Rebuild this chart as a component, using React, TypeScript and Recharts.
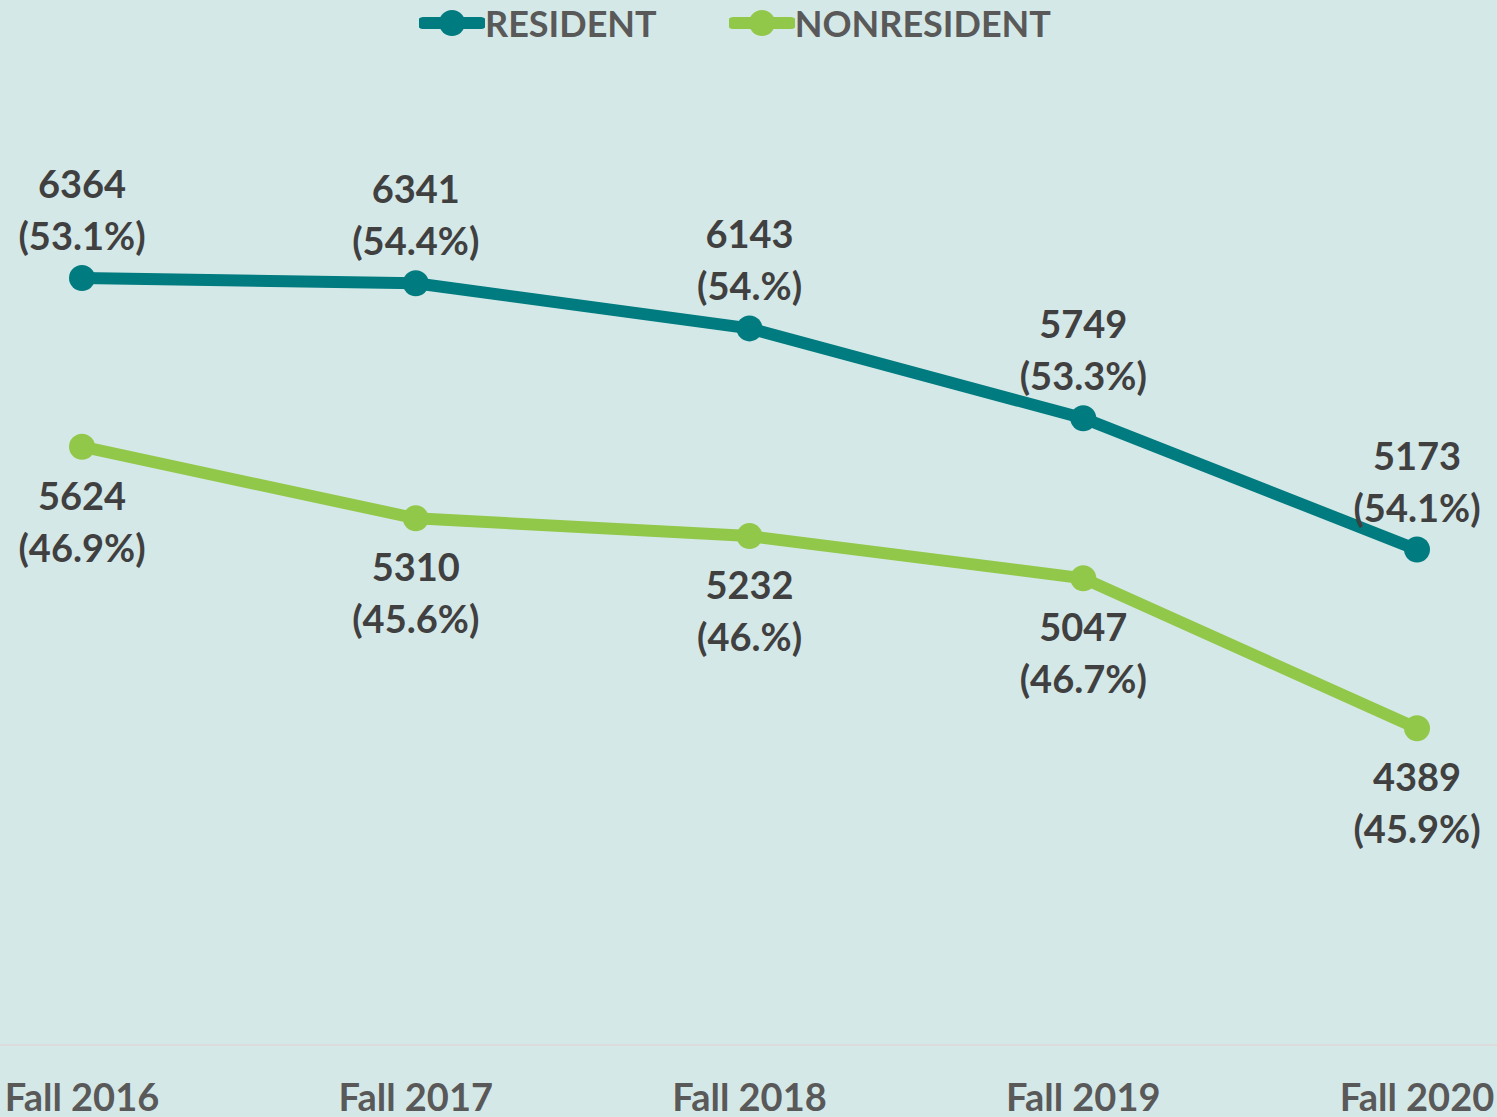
import { LineChart, Line, XAxis, YAxis, LabelList } from 'recharts';

const terms = ['Fall 2016', 'Fall 2017', 'Fall 2018', 'Fall 2019', 'Fall 2020'];
const residentCounts = [6364, 6341, 6143, 5749, 5173];
const residentShares = ['53.1%', '54.4%', '54.%', '53.3%', '54.1%'];
const nonresidentCounts = [5624, 5310, 5232, 5047, 4389];
const nonresidentShares = ['46.9%', '45.6%', '46.%', '46.7%', '45.9%'];

const TEAL = '#007b7f';
const GREEN = '#92c84a';
const FONT = 'Lato, "Open Sans", sans-serif';

const data = terms.map((term, i) => ({
  term,
  resident: residentCounts[i],
  nonresident: nonresidentCounts[i],
}));

// two-line label: count over (share)
function makeLabel(shares: string[], above: boolean) {
  return (props: any) => {
    const { x, y, value, index } = props;
    const y1 = above ? y - 95 : y + 48;
    const y2 = above ? y - 43 : y + 100;
    return (
      <g>
        <text x={x} y={y1} textAnchor="middle" dominantBaseline="central" fontFamily={FONT} fontWeight={700} fontSize={38} fill="#404040">
          {value}
        </text>
        <text x={x} y={y2} textAnchor="middle" dominantBaseline="central" fontFamily={FONT} fontWeight={700} fontSize={38} fill="#404040">
          ({shares[index]})
        </text>
      </g>
    );
  };
}

function TermTick(props: any) {
  const { x, y, payload } = props;
  return (
    <text x={x} y={y} textAnchor="middle" dominantBaseline="central" fontFamily={FONT} fontWeight={700} fontSize={38} fill="#595959">
      {payload.value}
    </text>
  );
}

function LegendItem({ color, label }: { color: string; label: string }) {
  return (
    <div style={{ display: 'flex', alignItems: 'center' }}>
      <svg width={66} height={30}>
        <line x1={4} y1={15} x2={62} y2={15} stroke={color} strokeWidth={12} strokeLinecap="round" />
        <circle cx={33} cy={15} r={13} fill={color} />
      </svg>
      <span style={{ fontFamily: FONT, fontWeight: 700, fontSize: 36, color: '#595959', lineHeight: 1 }}>{label}</span>
    </div>
  );
}

export default function App() {
  return (
    <div style={{ position: 'absolute', left: 0, top: 0, width: 1497, height: 1117, background: '#d5e8e8' }}>
      <div style={{ position: 'absolute', top: 5, left: 419, display: 'flex', gap: 72 }}>
        <LegendItem color={TEAL} label="RESIDENT" />
        <LegendItem color={GREEN} label="NONRESIDENT" />
      </div>
      <LineChart width={1497} height={1117} data={data} margin={{ top: 133, right: 0, bottom: 0, left: 0 }}>
        <XAxis
          dataKey="term"
          height={72}
          padding={{ left: 82, right: 80 }}
          axisLine={{ stroke: '#dcdcdc', strokeWidth: 2 }}
          tickLine={false}
          tick={<TermTick />}
          tickMargin={45}
          interval={0}
        />
        <YAxis hide domain={[3000, 7000]} />
        <Line
          dataKey="resident"
          stroke={TEAL}
          strokeWidth={12}
          dot={{ r: 13, fill: TEAL, stroke: TEAL, strokeWidth: 0 }}
          isAnimationActive={false}
        >
          <LabelList dataKey="resident" content={makeLabel(residentShares, true)} />
        </Line>
        <Line
          dataKey="nonresident"
          stroke={GREEN}
          strokeWidth={12}
          dot={{ r: 13, fill: GREEN, stroke: GREEN, strokeWidth: 0 }}
          isAnimationActive={false}
        >
          <LabelList dataKey="nonresident" content={makeLabel(nonresidentShares, false)} />
        </Line>
      </LineChart>
    </div>
  );
}
